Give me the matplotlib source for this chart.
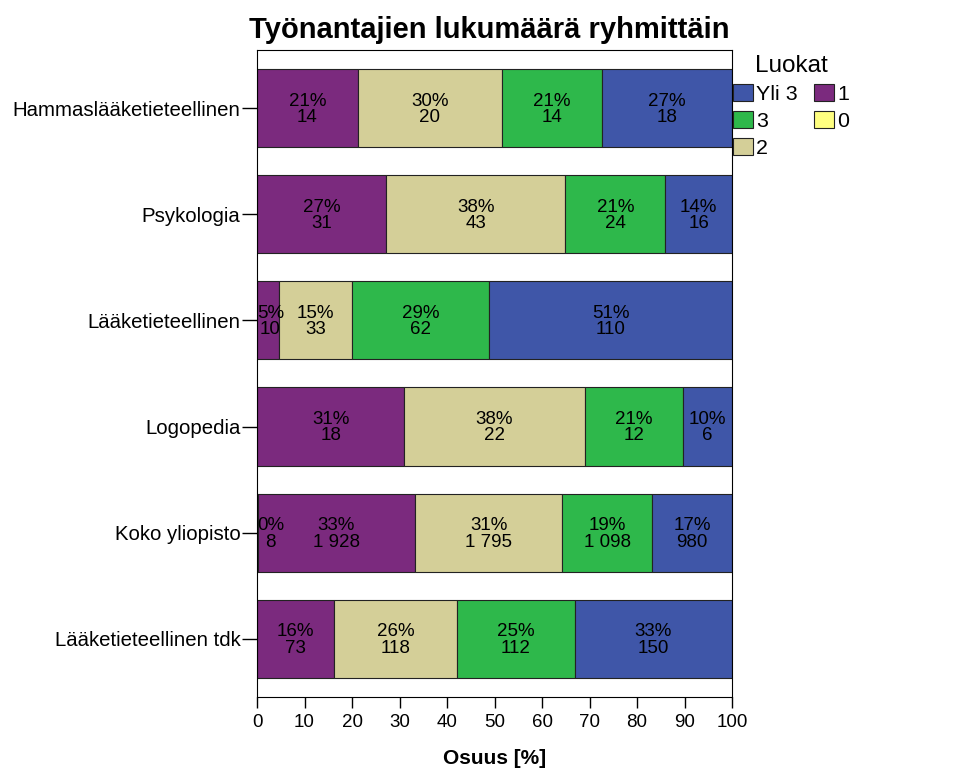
import matplotlib.pyplot as plt
import numpy as np

plt.rcParams['font.family'] = ['Liberation Sans', 'DejaVu Sans']

# ryhmät ja lukumäärät luokittain
ryhmat = ["Hammaslääketieteellinen", "Psykologia", "Lääketieteellinen",
          "Logopedia", "Koko yliopisto", "Lääketieteellinen tdk"]
luokat = ["0", "1", "2", "3", "Yli 3"]
n_0 = [0, 0, 0, 0, 8, 0]
n_1 = [14, 31, 10, 18, 1928, 73]
n_2 = [20, 43, 33, 22, 1795, 118]
n_3 = [14, 24, 62, 12, 1098, 112]
n_yli3 = [18, 16, 110, 6, 980, 150]
varit = ["#FFFF80", "#7B2A7E", "#D4CF98", "#2EB84B", "#3F56A8"]

counts = np.array([n_0, n_1, n_2, n_3, n_yli3], dtype=float)
totals = counts.sum(axis=0)
pct = counts / totals * 100

fig = plt.figure(figsize=(9.78, 7.84), dpi=100)
ax = fig.add_axes([0.2628, 0.111, 0.4857, 0.8252])

y = np.arange(len(ryhmat))
left = np.zeros(len(ryhmat))
handles = []
for i, lk in enumerate(luokat):
    h = ax.barh(y, pct[i], left=left, height=0.736, color=varit[i],
                edgecolor="#222222", linewidth=0.8, label=lk)
    handles.append(h)
    for j in range(len(ryhmat)):
        if counts[i, j] > 0:
            xc = max(left[j] + pct[i, j] / 2, 2.8)
            teksti = f"{pct[i, j]:.0f}%\n{int(counts[i, j]):,}".replace(",", " ")
            ax.text(xc, y[j] + 0.01, teksti, ha="center", va="center",
                    fontsize=13.5, linespacing=0.98, clip_on=True)
    left += pct[i]

ax.set_xlim(0, 100)
ax.set_ylim(5.55, -0.55)
ax.set_xticks(np.arange(0, 101, 10))
ax.set_yticks(y)
ax.set_yticklabels(ryhmat, fontsize=14.7)
ax.tick_params(axis="x", labelsize=13.5, length=8, width=1, pad=4)
ax.tick_params(axis="y", length=11, width=1, pad=1)
ax.set_xlabel("Osuus [%]", fontsize=15, fontweight="bold", labelpad=13)
ax.set_title("Työnantajien lukumäärä ryhmittäin", fontsize=21,
             fontweight="bold", pad=9, x=0.488)

# legenda: Yli 3, 3, 2 | 1, 0
jarj = [4, 3, 2, 1, 0]
leg = ax.legend([handles[k] for k in jarj], [luokat[k] for k in jarj],
                title="Luokat", ncol=2, loc="upper left",
                bbox_to_anchor=(0.998, 0.995), borderaxespad=0, borderpad=0.1,
                frameon=False, fontsize=15.4, title_fontsize=17.5,
                handlelength=0.93, handleheight=0.84, handletextpad=0.15,
                columnspacing=0.75, labelspacing=0.33)

fig.savefig("out.png", dpi=100)
